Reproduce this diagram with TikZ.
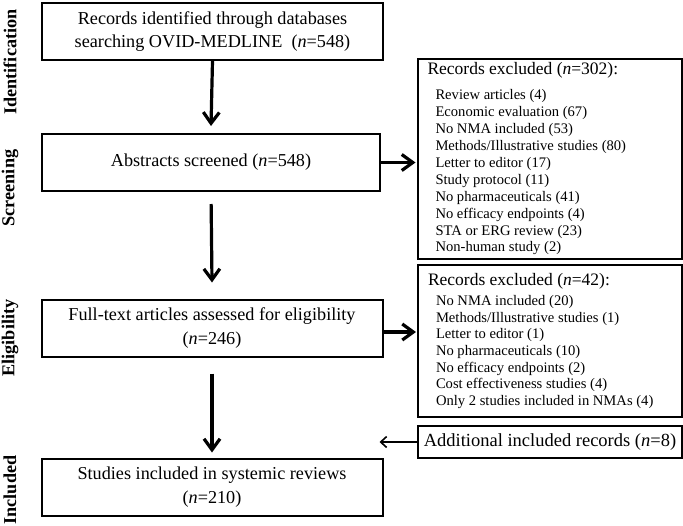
\documentclass[tikz,border=0pt]{standalone}
\usepackage{fontspec}
\setmainfont{Liberation Serif}
\usetikzlibrary{arrows.meta}

\tikzset{
	mainbox/.style={draw, line width=2pt, minimum width=341pt, minimum height=57pt, inner sep=0pt, align=center, font=\fontsize{18.2}{23.5}\selectfont},
	exclbox/.style={draw, line width=2pt, minimum width=264pt, inner sep=0pt},
	phase/.style={rotate=90, inner sep=0pt, font=\fontsize{18.2}{20}\selectfont\bfseries},
	flow/.style={line width=3.2pt, -{Straight Barb[length=11pt,width=16pt]}},
	thinflow/.style={line width=1.6pt, -{Straight Barb[length=6pt,width=11pt]}}
}

\begin{document}
\begin{tikzpicture}[x=1pt,y=-1pt]
			\useasboundingbox[fill=white] (0,0) rectangle (683,525);

			% phases
			\node[phase] (ident) at (10,62) {Identification};
			\node[phase] (screen) at (10,188) {Screening};
			\node[phase] (elig) at (10,338) {Eligibility};
			\node[phase] (incl) at (10,490) {Included};

			% main column
			\node[mainbox] (records) at (212.5,31.5) {Records identified through databases\\searching OVID-MEDLINE~ (\textit{n}=548)};
			\node[mainbox, minimum width=338pt] (abstracts) at (211,162.5) {Abstracts screened (\textit{n}=548)};
			\node[mainbox] (fulltext) at (212,328) {Full-text articles assessed for eligibility\\(\textit{n}=246)};
			\node[mainbox] (studies) at (212,487) {Studies included in systemic reviews\\(\textit{n}=210)};

			% exclusions
			\node[exclbox, minimum height=200pt] (excl1) at (549.5,159)
			{
				\begin{minipage}{244pt}
					{\fontsize{17.5}{20}\selectfont Records excluded (\textit{n}=302):}\par
					\vspace{8pt}
					\fontsize{14.6}{16.9}\selectfont\leftskip=8pt
					Review articles (4)\par
					Economic evaluation (67)\par
					No NMA included (53)\par
					Methods/Illustrative studies (80)\par
					Letter to editor (17)\par
					Study protocol (11)\par
					No pharmaceuticals (41)\par
					No efficacy endpoints (4)\par
					STA or ERG review (23)\par
					Non-human study (2)\par
				\end{minipage}
			};
			\node[exclbox, minimum height=152pt] (excl2) at (550,341)
			{
				\begin{minipage}{244pt}
					{\fontsize{17.5}{20}\selectfont Records excluded (\textit{n}=42):}\par
					\vspace{3.3pt}
					\fontsize{14.6}{16.7}\selectfont\leftskip=8pt
					No NMA included (20)\par
					Methods/Illustrative studies (1)\par
					Letter to editor (1)\par
					No pharmaceuticals (10)\par
					No efficacy endpoints (2)\par
					Cost effectiveness studies (4)\par
					Only 2 studies included in NMAs (4)\par
				\end{minipage}
			};
			\node[exclbox, minimum height=32pt, font=\fontsize{18.5}{20}\selectfont] (additional) at (550,442) {Additional included records (\textit{n}=8)};

			% arrows
			\draw[flow] (records.south) -- ([yshift=7pt]abstracts.north);
			\draw[flow, shorten <=12pt] (abstracts.south) -- ([yshift=16pt]fulltext.north);
			\draw[flow, shorten <=16pt] (fulltext.south) -- ([yshift=5pt]studies.north);
			\draw[flow] (abstracts.east) -- ([xshift=-1pt]abstracts.east -| excl1.west);
			\draw[flow] ([yshift=-4pt]fulltext.east) -- ([xshift=-1pt,yshift=-4pt]fulltext.east -| excl2.west);
			\draw[thinflow] (additional.west) -- ([xshift=-4pt]additional.west -| studies.east);
		\end{tikzpicture}
\end{document}
